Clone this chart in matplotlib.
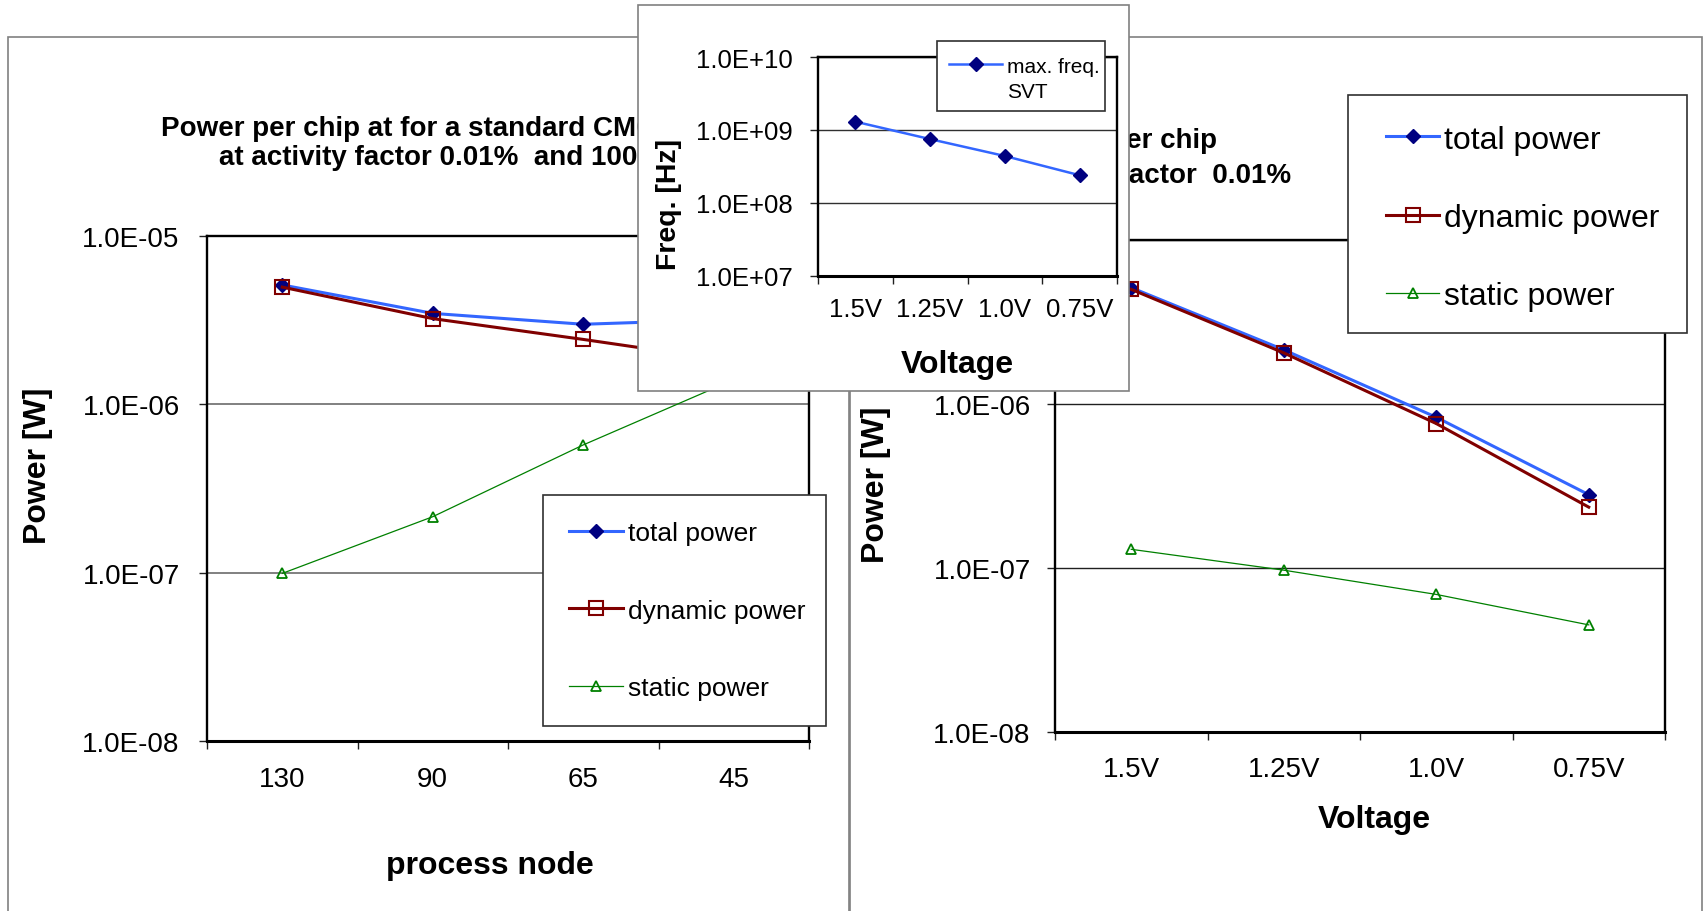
import matplotlib
matplotlib.use('Agg')
import matplotlib.pyplot as plt
from matplotlib.patches import Rectangle
from matplotlib.ticker import FixedLocator, NullLocator, FuncFormatter, NullFormatter, FixedFormatter

plt.rcParams['font.family'] = ['Liberation Sans', 'DejaVu Sans']

# ---------------- data ----------------
nodes = ['130', '90', '65', '45']
node_total = [5.12e-6, 3.47e-6, 2.99e-6, 3.2e-6]
node_dynamic = [4.97e-6, 3.23e-6, 2.43e-6, 1.8e-6]
node_static = [9.9e-8, 2.15e-7, 5.74e-7, 1.4e-6]

voltages = ['1.5V', '1.25V', '1.0V', '0.75V']
volt_total = [5.12e-6, 2.14e-6, 8.3e-7, 2.8e-7]
volt_dynamic = [5.0e-6, 2.05e-6, 7.6e-7, 2.35e-7]
volt_static = [1.3e-7, 9.7e-8, 6.9e-8, 4.5e-8]

freq_svt = [1.3e9, 7.5e8, 4.4e8, 2.4e8]

series_names = ['total power', 'dynamic power', 'static power']
freq_name = 'max. freq.\nSVT'
power_ticks = [1e-8, 1e-7, 1e-6, 1e-5]
freq_ticks = [1e7, 1e8, 1e9, 1e10]

# ---------------- layout helpers ----------------
W, H = 1707, 912
fig = plt.figure(figsize=(W / 100, H / 100), dpi=100)


def frect(l, t, r, b):
    return [l / W, 1 - b / H, (r - l) / W, (b - t) / H]


def fx(x):
    return x / W


def fy(y):
    return 1 - y / H


def panel(l, t, r, b, z):
    fig.add_artist(Rectangle((fx(l), fy(b)), (r - l) / W, (b - t) / H,
                             transform=fig.transFigure, facecolor='white',
                             edgecolor='#808080', lw=1.2, zorder=z))


def legend_box(ax, l, t, r, b):
    ax.add_patch(Rectangle((fx(l), fy(b)), (r - l) / W, (b - t) / H,
                           transform=fig.transFigure, facecolor='white',
                           edgecolor='#303030', lw=1.2, zorder=4.5, clip_on=False))


sci = FuncFormatter(lambda v, p: f"{v:.1E}")

BLUE, NAVY, RED, GREEN = '#3366FF', '#000080', '#800000', '#008000'


def style_axes(ax, cats, yticks, xlab_pad, ylab_pad, tsize, gridcol, gridlw):
    n = len(cats)
    ax.set_xlim(-0.5, n - 0.5)
    ax.set_yscale('log')
    ax.set_ylim(yticks[0], yticks[-1])
    ax.xaxis.set_major_locator(FixedLocator([i - 0.5 for i in range(n + 1)]))
    ax.xaxis.set_major_formatter(NullFormatter())
    ax.xaxis.set_minor_locator(FixedLocator(list(range(n))))
    ax.xaxis.set_minor_formatter(FixedFormatter(cats))
    ax.tick_params(axis='x', which='minor', length=0, labelsize=tsize, pad=xlab_pad)
    ax.tick_params(axis='x', which='major', length=6, width=1, direction='out', color='#202020')
    ax.yaxis.set_major_locator(FixedLocator(yticks))
    ax.yaxis.set_minor_locator(NullLocator())
    ax.yaxis.set_major_formatter(sci)
    ax.tick_params(axis='y', which='major', length=6, width=1, direction='out',
                   labelsize=tsize, pad=ylab_pad, color='#202020')
    ax.yaxis.grid(True, color=gridcol, lw=gridlw)
    for s in ax.spines.values():
        s.set_linewidth(1.7)
        s.set_color('black')
    ax.spines['bottom'].set_linewidth(2.2)
    ax.set_facecolor('white')


def draw_power(ax, total, dynamic, static):
    x = list(range(len(total)))
    ax.plot(x, total, color=BLUE, lw=2.2, marker='D', ms=7, mfc=NAVY, mec=NAVY,
            mew=1, label=series_names[0], zorder=3)
    ax.plot(x, dynamic, color=RED, lw=2.2, marker='s', ms=10, mfc='none', mec=RED,
            mew=1.5, label=series_names[1], zorder=4)
    ax.plot(x, static, color=GREEN, lw=0.9, marker='^', ms=6.5, mfc='none', mec=GREEN,
            mew=1.3, label=series_names[2], zorder=3)


def place_legend(ax, hx, ty, **kw):
    return ax.legend(loc='upper left', bbox_to_anchor=(fx(hx), fy(ty)),
                     bbox_transform=fig.transFigure, frameon=False,
                     borderpad=0, borderaxespad=0, **kw)


# ---------------- left panel ----------------
panel(8, 38, 849, 920, 1)
fig.text(fx(161), fy(136), 'Power per chip at for a standard CMOS process',
         ha='left', va='baseline', fontsize=20, fontweight='bold', zorder=2)
fig.text(fx(219), fy(165), 'at activity factor 0.01%  and 100 MHz',
         ha='left', va='baseline', fontsize=20, fontweight='bold', zorder=2)

ax1 = fig.add_axes(frect(207, 237, 809, 742), zorder=3)
style_axes(ax1, nodes, power_ticks, 18, 13.7, 20, '#808080', 1.4)
draw_power(ax1, node_total, node_dynamic, node_static)
legend_box(ax1, 543, 496, 826, 727)
place_legend(ax1, 569, 522, fontsize=19, labelspacing=2.03,
             handlelength=2.05, handletextpad=0.19)
fig.text(fx(38), fy(466), 'Power [W]', rotation=90, ha='center', va='center',
         fontsize=23, fontweight='bold', zorder=2)
fig.text(fx(490), fy(866), 'process node', ha='center', va='center',
         fontsize=23, fontweight='bold', zorder=2)

# ---------------- right panel ----------------
panel(850, 38, 1702, 920, 4)
fig.text(fx(1217), fy(148), 'Power per chip', ha='right', va='baseline',
         fontsize=20, fontweight='bold', zorder=5)
fig.text(fx(1291), fy(183), 'at activity factor  0.01%', ha='right', va='baseline',
         fontsize=20, fontweight='bold', zorder=5)

ax2 = fig.add_axes(frect(1055, 241, 1665, 733), zorder=6)
style_axes(ax2, voltages, power_ticks, 17.6, 11.5, 20, '#202020', 1.0)
draw_power(ax2, volt_total, volt_dynamic, volt_static)
legend_box(ax2, 1348, 96, 1687, 334)
place_legend(ax2, 1386, 125.5, fontsize=23, labelspacing=1.51,
             handlelength=1.66, handletextpad=0.16)
fig.text(fx(876), fy(485), 'Power [W]', rotation=90, ha='center', va='center',
         fontsize=23, fontweight='bold', zorder=5)
fig.text(fx(1374), fy(820), 'Voltage', ha='center', va='center',
         fontsize=23, fontweight='bold', zorder=5)

# ---------------- inset (frequency) ----------------
panel(638, 6, 1129, 392, 10)
ax3 = fig.add_axes(frect(818, 58, 1117, 277), zorder=11)
style_axes(ax3, voltages, freq_ticks, 15, 12, 18.5, '#303030', 1.0)
ax3.plot(range(len(freq_svt)), freq_svt, color=BLUE, lw=1.8, marker='D', ms=7.5,
         mfc=NAVY, mec=NAVY, label=freq_name)
legend_box(ax3, 937, 42, 1105, 112)
leg3 = place_legend(ax3, 949, 58, fontsize=15, handlelength=2.55, handletextpad=0.24)
for t in leg3.get_texts():
    t.set_linespacing(1.4)
for col in leg3._legend_handle_box.get_children():
    for row in col.get_children():
        row.align = 'top'
fig.text(fx(669), fy(204), 'Freq. [Hz]', rotation=90, ha='center', va='center',
         fontsize=20.5, fontweight='bold', zorder=12)
fig.text(fx(957), fy(365), 'Voltage', ha='center', va='center',
         fontsize=23, fontweight='bold', zorder=12)

fig.savefig('out.png', dpi=100)
